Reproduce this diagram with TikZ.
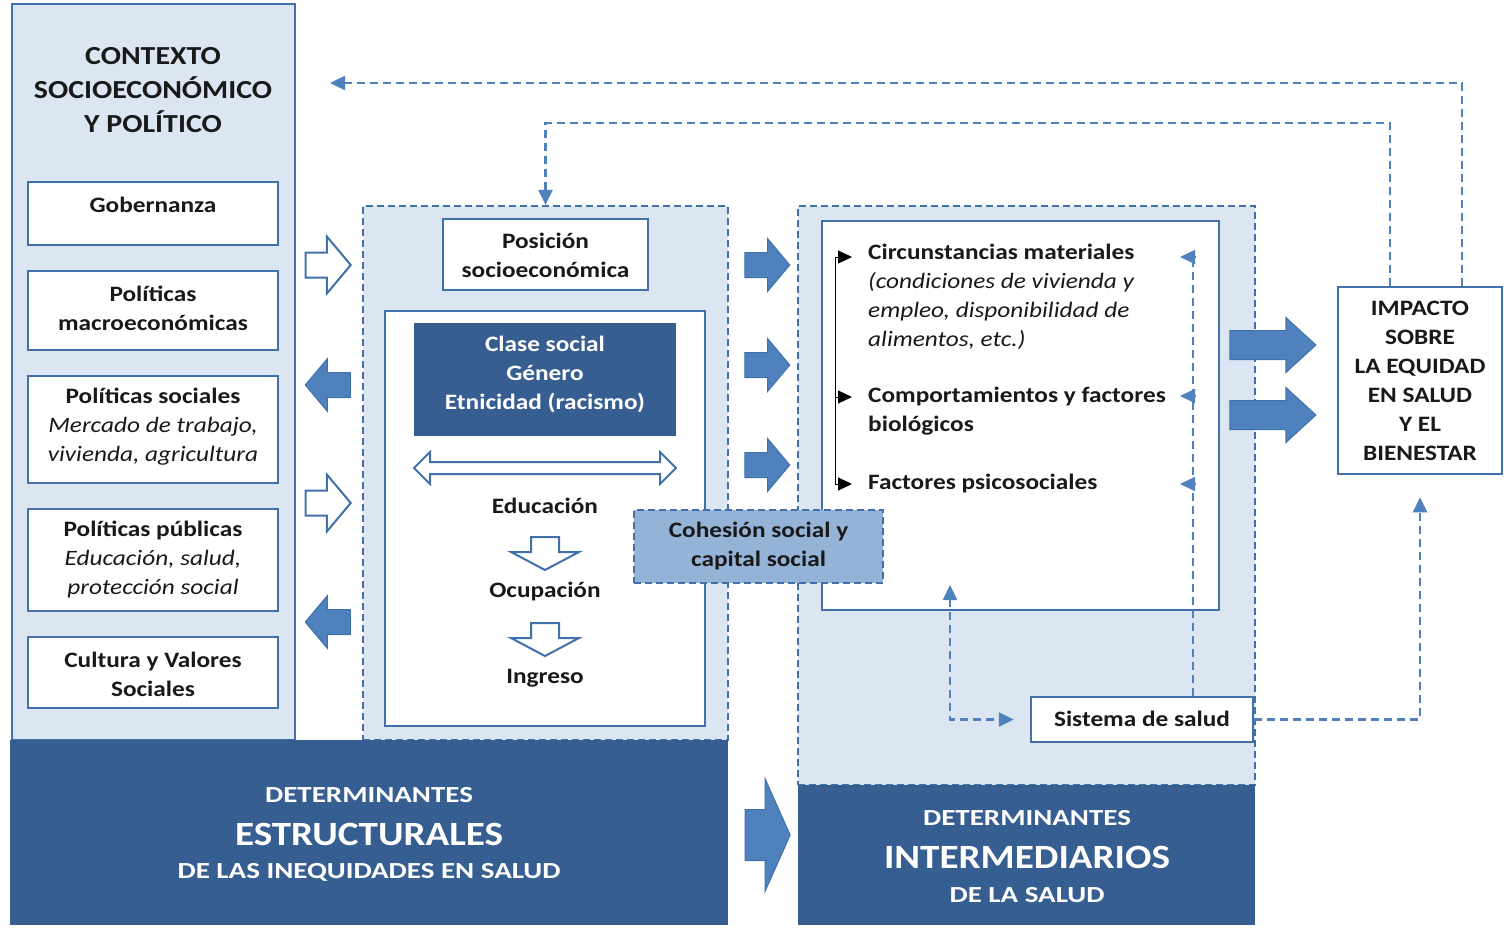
\documentclass[tikz,border=0pt]{standalone}
\usepackage{fontspec}
\setmainfont{Carlito}[FakeStretch=1.15]
\newfontfamily\capsf{Carlito}[FakeStretch=1.26]
\usetikzlibrary{shapes.arrows,arrows.meta,calc}
\definecolor{dkblue}{RGB}{54,94,145}
\definecolor{midblue}{RGB}{79,129,189}
\definecolor{lineblue}{RGB}{65,113,170}
\definecolor{ltblue}{RGB}{220,230,242}
\definecolor{cohblue}{RGB}{149,179,215}
\definecolor{txt}{RGB}{25,25,25}
\begin{document}
\begin{tikzpicture}[x=1pt,y=-1pt,
  panel/.style={rectangle, draw=lineblue, line width=2.5pt, fill=ltblue, inner sep=0pt},
  dpanel/.style={rectangle, draw=lineblue, line width=2.2pt, fill=ltblue, dash pattern=on 7pt off 4pt, inner sep=0pt},
  wbox/.style={rectangle, draw=lineblue, line width=2.5pt, fill=white, inner sep=0pt},
  darkbox/.style={rectangle, fill=dkblue, draw=none, inner sep=0pt},
  btext/.style={font=\fontsize{22}{29}\selectfont\bfseries, text=txt, align=center, inner sep=0pt},
  ltext/.style={font=\fontsize{22}{29}\selectfont\bfseries, text=txt, align=left, inner sep=0pt, anchor=west},
  wtext/.style={font=\fontsize{22}{29}\selectfont\bfseries, text=white, align=center, inner sep=0pt},
  ctext/.style={font=\fontsize{23}{29}\capsf\bfseries, text=white, align=center, inner sep=0pt},
  btitle/.style={font=\fontsize{34}{40}\selectfont\bfseries, text=white, align=center, inner sep=0pt},
  dline/.style={draw=midblue, line width=2.4pt, dash pattern=on 8pt off 5pt},
  tip/.style={-{Triangle[length=15pt,width=14pt]}},
  smalltip/.style={draw=midblue, line width=1.5pt, -{Triangle[length=15pt,width=14pt]}},
  hollowR/.style={single arrow, draw=lineblue, line width=2pt, fill=white, inner xsep=0pt, inner ysep=11.5pt,
     single arrow head extend=16pt, minimum height=45pt, single arrow tip angle=100},
  filledA/.style={single arrow, draw=lineblue, line width=1pt, fill=midblue, inner xsep=0pt, inner ysep=12pt,
     single arrow head extend=14pt, minimum height=45pt, single arrow tip angle=100},
  hollowD/.style={draw=lineblue, line width=2pt, fill=white, line join=miter},
]
\useasboundingbox (0,0) rectangle (1504,927);
\fill[white] (0,0) rectangle (1504,927);

% ---------- left context panel ----------
\node[panel, minimum width=283pt, minimum height=736pt] (ctx) at (153.5,372) {};
\node[btext, font=\fontsize{26}{34}\selectfont\bfseries] (ctxt) at (153,90) {CONTEXTO\\SOCIOECONÓMICO\\Y POLÍTICO};
\node[wbox, minimum width=250pt, minimum height=63pt] (gob) at (153,213.5) {};
\node[btext] (gobt) at (153,205) {Gobernanza};
\node[wbox, minimum width=250pt, minimum height=79pt] (mac) at (153,310.5) {};
\node[btext] (mact) at (153,308.5) {Políticas\\macroeconómicas};
\node[wbox, minimum width=250pt, minimum height=107pt] (soc) at (153,429.5) {};
\node[btext] (soct) at (153,427) {Políticas sociales\\\mdseries\itshape Mercado de trabajo,\\\mdseries\itshape vivienda, agricultura};
\node[wbox, minimum width=250pt, minimum height=102pt] (pub) at (153,560) {};
\node[btext] (pubt) at (153,560) {Políticas públicas\\\mdseries\itshape Educación, salud,\\\mdseries\itshape protección social};
\node[wbox, minimum width=250pt, minimum height=71pt] (cul) at (153,672.5) {};
\node[btext] (cult) at (153,674) {Cultura y Valores\\Sociales};

% ---------- middle (structural) panel ----------
\node[dpanel, minimum width=365pt, minimum height=534pt] (mid) at (545.5,473) {};
\node[wbox, minimum width=205pt, minimum height=71pt] (pos) at (545.5,254.5) {};
\node[btext] (post) at (545.5,255) {Posición\\socioeconómica};
\node[wbox, minimum width=320pt, minimum height=415pt] (inn) at (545,518.5) {};
\node[darkbox, minimum width=262pt, minimum height=113pt] (cls) at (545,379.5) {};
\node[wtext] (clst) at (545,374) {Clase social\\Género\\Etnicidad (racismo)};
\node[double arrow, draw=lineblue, line width=2pt, fill=white, inner xsep=0pt, inner ysep=5pt,
      double arrow head extend=10pt, minimum height=262pt, double arrow tip angle=90] (dbl) at (545,468) {};
\node[btext] (edu) at (545,506) {Educación};
\coordinate (d1) at (545,537);
\draw[hollowD] (d1) ++(-14,0) -- ++(28,0) -- ++(0,15) -- ++(20,0) -- ++(-34,18) -- ++(-34,-18) -- ++(20,0) -- cycle;
\node[btext] (ocu) at (545,592) {Ocupación};
\coordinate (d2) at (545,623);
\draw[hollowD] (d2) ++(-14,0) -- ++(28,0) -- ++(0,15) -- ++(20,0) -- ++(-34,18) -- ++(-34,-18) -- ++(20,0) -- cycle;
\node[btext] (ing) at (545,678) {Ingreso};

% ---------- bottom left dark box ----------
\node[darkbox, minimum width=718pt, minimum height=185pt] (est) at (369,832.5) {};
\node[ctext] (est1) at (369,795) {DETERMINANTES};
\node[btitle] (est2) at (369,834) {ESTRUCTURALES};
\node[ctext] (est3) at (369,872) {DE LAS INEQUIDADES EN SALUD};

% ---------- right (intermediary) panel ----------
\node[dpanel, minimum width=457pt, minimum height=579pt] (rgt) at (1026.5,495.5) {};
\node[darkbox, minimum width=457pt, minimum height=140pt] (itm) at (1026.5,855) {};
\node[ctext] (itm1) at (1027,818) {DETERMINANTES};
\node[btitle] (itm2) at (1027,857) {INTERMEDIARIOS};
\node[ctext] (itm3) at (1027,895) {DE LA SALUD};
\node[wbox, minimum width=397pt, minimum height=389pt] (rin) at (1020.5,415.5) {};

\node[ltext] (circ) at (868,296.5) {Circunstancias materiales\\\mdseries\itshape (condiciones de vivienda y\\\mdseries\itshape empleo, disponibilidad de\\\mdseries\itshape alimentos, etc.)};
\node[ltext] (comp) at (868,411.5) {Comportamientos y factores\\biológicos};
\node[ltext] (psic) at (868,484) {Factores psicosociales};

% bullets
\coordinate (b0) at (835,257);
\coordinate (b2) at (835,484);
\draw[black, line width=1pt] (b0) -- (b2);
\draw[black, line width=1pt, -{Triangle[length=14pt,width=13pt]}] (b0) -- (852,257);
\draw[black, line width=1pt, -{Triangle[length=14pt,width=13pt]}] (835,397) -- (852,397);
\draw[black, line width=1pt, -{Triangle[length=14pt,width=13pt]}] (b2) -- (852,484);

% cohesion box
\node[rectangle, draw=lineblue, line width=2.2pt, dash pattern=on 7pt off 4pt, fill=cohblue, minimum width=249pt, minimum height=73pt] (coh) at (758.5,546.5) {};
\node[btext] (coht) at (758.5,546.5) {Cohesión social y\\capital social};

% sistema de salud
\node[wbox, minimum width=222pt, minimum height=45pt] (sis) at (1142,719.5) {};
\node[btext] (sist) at (1142,719) {Sistema de salud};

% impacto
\node[wbox, minimum width=164pt, minimum height=187pt] (imp) at (1420,380.5) {};
\node[btext] (impt) at (1420,380.5) {IMPACTO\\SOBRE\\LA EQUIDAD\\EN SALUD\\Y EL\\BIENESTAR};

% ---------- block arrows ----------
\node[hollowR] (a1) at (323,265) {};
\node[filledA, shape border rotate=180] (a2) at (333,385) {};
\node[hollowR] (a3) at (323,503) {};
\node[filledA, shape border rotate=180] (a4) at (333,622) {};
\node[filledA] (a5) at (762,265) {};
\node[filledA] (a6) at (762,365) {};
\node[filledA] (a7) at (762,465) {};
\node[filledA, inner ysep=25pt, single arrow head extend=31pt, single arrow tip angle=132] (a8) at (762,835) {};
\node[filledA, inner ysep=14pt, single arrow head extend=13pt, minimum height=86pt, single arrow tip angle=85] (a9) at (1265,345) {};
\node[filledA, inner ysep=14pt, single arrow head extend=13pt, minimum height=86pt, single arrow tip angle=85] (a10) at (1265,415) {};

% ---------- dashed connectors ----------
\coordinate (fb1) at (330,83);
\draw[dline, tip] ($(imp.north)+(42,0)$) |- (fb1);
\draw[dline, tip] ($(imp.north)+(-30,0)$) |- ($(mid.north)+(0,-82)$) -- (mid.north);

\coordinate (sup) at (950,585);
\draw[dline, {Triangle[length=15pt,width=14pt]}-{Triangle[length=15pt,width=14pt]}, shorten >=16pt] (sup) |- (sis.west);
\draw[dline, tip, shorten >=22pt] (sis.east) -| (imp.south);

\coordinate (vtop) at (1193,257);
\draw[dline] ($(sis.north)+(51,0)$) -- (vtop);
\draw[smalltip] (1196,257) -- (1180,257);
\draw[smalltip] (1196,396) -- (1180,396);
\draw[smalltip] (1196,484) -- (1180,484);
\end{tikzpicture}
\end{document}
